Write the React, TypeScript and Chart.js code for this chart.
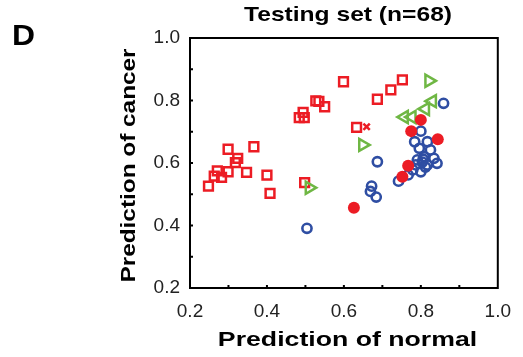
import React, { useEffect, useRef } from "react";
import { Chart, registerables } from "chart.js";

Chart.register(...registerables);

// ---- Data ----
const xTickValues = [0.2, 0.4, 0.6, 0.8, 1.0];
const yTickValues = [0.2, 0.4, 0.6, 0.8, 1.0];
const minorTickValues = [0.3, 0.4, 0.5, 0.6, 0.7, 0.8, 0.9];

const redSquareX = [0.248, 0.263, 0.271, 0.282, 0.299, 0.318, 0.324, 0.299, 0.366, 0.347, 0.400, 0.408, 0.498, 0.484, 0.497, 0.494, 0.527, 0.535, 0.550, 0.599, 0.687, 0.722, 0.752, 0.633];
const redSquareY = [0.526, 0.558, 0.575, 0.554, 0.572, 0.601, 0.615, 0.644, 0.652, 0.570, 0.561, 0.503, 0.537, 0.745, 0.745, 0.762, 0.799, 0.797, 0.780, 0.860, 0.804, 0.834, 0.866, 0.714];

const redCrossX = [0.659];
const redCrossY = [0.716];

const greenRightX = [0.510, 0.649, 0.821];
const greenRightY = [0.521, 0.658, 0.863];

const greenLeftX = [0.757, 0.777, 0.812, 0.830];
const greenLeftY = [0.747, 0.747, 0.773, 0.798];

const redDotX = [0.626, 0.800, 0.775, 0.844, 0.767, 0.752];
const redDotY = [0.457, 0.738, 0.702, 0.676, 0.591, 0.556];

const blueCircleX = [0.504, 0.672, 0.669, 0.684, 0.687, 0.742, 0.859, 0.800, 0.784, 0.817, 0.796, 0.825, 0.809, 0.834, 0.791, 0.842, 0.817, 0.800, 0.779, 0.767, 0.804, 0.812, 0.787, 0.806];
const blueCircleY = [0.391, 0.526, 0.509, 0.491, 0.604, 0.542, 0.791, 0.702, 0.668, 0.668, 0.647, 0.642, 0.620, 0.615, 0.610, 0.599, 0.594, 0.572, 0.578, 0.562, 0.603, 0.587, 0.594, 0.612];

const RED = "#ec1c24";
const BLUE = "#2f4ea3";
const GREEN = "#6fb744";
const FONT = '"Liberation Sans", Arial, sans-serif';

const pts = (xs: number[], ys: number[]) => xs.map((x, i) => ({ x, y: ys[i] }));

const decorPlugin = {
  id: "decor",
  afterDraw(chart: any) {
    const ctx = chart.ctx as CanvasRenderingContext2D;
    const a = chart.chartArea;
    const xs = chart.scales.x;
    const ys = chart.scales.y;
    ctx.save();
    ctx.strokeStyle = "#000";
    ctx.lineWidth = 2;
    ctx.strokeRect(a.left, a.top, a.right - a.left, a.bottom - a.top);
    ctx.beginPath();
    minorTickValues.forEach((v) => {
      const px = xs.getPixelForValue(v);
      ctx.moveTo(px, a.bottom);
      ctx.lineTo(px, a.bottom - 3);
      const py = ys.getPixelForValue(v);
      ctx.moveTo(a.left, py);
      ctx.lineTo(a.left + 3, py);
    });
    ctx.stroke();

    ctx.fillStyle = "#000";
    const drawText = (t: string, x: number, y: number, size: number, sx: number, rot = 0, align: CanvasTextAlign = "center") => {
      ctx.save();
      ctx.translate(x, y);
      if (rot) ctx.rotate(rot);
      ctx.scale(sx, 1);
      ctx.font = `bold ${size}px ${FONT}`;
      ctx.textAlign = align;
      ctx.textBaseline = "alphabetic";
      ctx.fillText(t, 0, 0);
      ctx.restore();
    };
    drawText("D", 12, 45, 29, 1.1, 0, "left");
    drawText("Testing set (n=68)", 348, 21, 20.5, 1.2);
    drawText("Prediction of normal", 347.5, 346, 21, 1.27);
    drawText("Prediction of cancer", 135, 165.5, 21, 1.16, -Math.PI / 2);
    ctx.restore();
  },
};

export default function App() {
  const ref = useRef<HTMLCanvasElement>(null);
  useEffect(() => {
    if (!ref.current) return;
    const chart = new Chart(ref.current, {
      type: "scatter",
      data: {
        datasets: [
          {
            label: "redDot",
            data: pts(redDotX, redDotY),
            pointStyle: "circle",
            pointRadius: 6,
            borderWidth: 0,
            backgroundColor: RED,
            borderColor: RED,
          },
          {
            label: "greenLeft",
            data: pts(greenLeftX, greenLeftY),
            pointStyle: "triangle",
            pointRotation: -90,
            pointRadius: 7,
            borderWidth: 2.5,
            backgroundColor: "transparent",
            borderColor: GREEN,
          },
          {
            label: "greenRight",
            data: pts(greenRightX, greenRightY),
            pointStyle: "triangle",
            pointRotation: 90,
            pointRadius: 7,
            borderWidth: 2.5,
            backgroundColor: "transparent",
            borderColor: GREEN,
          },
          {
            label: "blue",
            data: pts(blueCircleX, blueCircleY),
            pointStyle: "circle",
            pointRadius: 4.6,
            borderWidth: 2.6,
            backgroundColor: "transparent",
            borderColor: BLUE,
          },
          {
            label: "redCross",
            data: pts(redCrossX, redCrossY),
            pointStyle: "crossRot",
            pointRadius: 4.5,
            borderWidth: 2.5,
            backgroundColor: "transparent",
            borderColor: RED,
          },
          {
            label: "redSquare",
            data: pts(redSquareX, redSquareY),
            pointStyle: "rect",
            pointRadius: 6.2,
            borderWidth: 2.5,
            backgroundColor: "transparent",
            borderColor: RED,
          },
        ],
      },
      options: {
        animation: false,
        responsive: false,
        layout: { padding: { left: 0, right: 15, top: 38, bottom: 0 } },
        plugins: { legend: { display: false }, tooltip: { enabled: false }, title: { display: false } },
        scales: {
          x: {
            type: "linear",
            min: 0.2,
            max: 1.0,
            grid: { display: false, drawTicks: false },
            border: { display: false },
            afterBuildTicks: (s: any) => {
              s.ticks = xTickValues.map((v) => ({ value: v }));
            },
            afterFit: (s: any) => {
              s.height = 69;
            },
            ticks: {
              padding: 12,
              color: "#222",
              font: { family: FONT, size: 19 },
              callback: (v: any) => Number(v).toFixed(1),
            },
          },
          y: {
            type: "linear",
            min: 0.2,
            max: 1.0,
            grid: { display: false, drawTicks: false },
            border: { display: false },
            afterBuildTicks: (s: any) => {
              s.ticks = yTickValues.map((v) => ({ value: v }));
            },
            afterFit: (s: any) => {
              s.width = 190;
            },
            ticks: {
              padding: 10,
              color: "#222",
              font: { family: FONT, size: 19 },
              callback: (v: any) => Number(v).toFixed(1),
            },
          },
        },
      },
      plugins: [decorPlugin],
    });
    return () => chart.destroy();
  }, []);

  return (
    <div style={{ position: "absolute", left: 0, top: 0, width: 523, height: 357, background: "#fff" }}>
      <canvas ref={ref} width={523} height={357} style={{ display: "block" }} />
    </div>
  );
}
